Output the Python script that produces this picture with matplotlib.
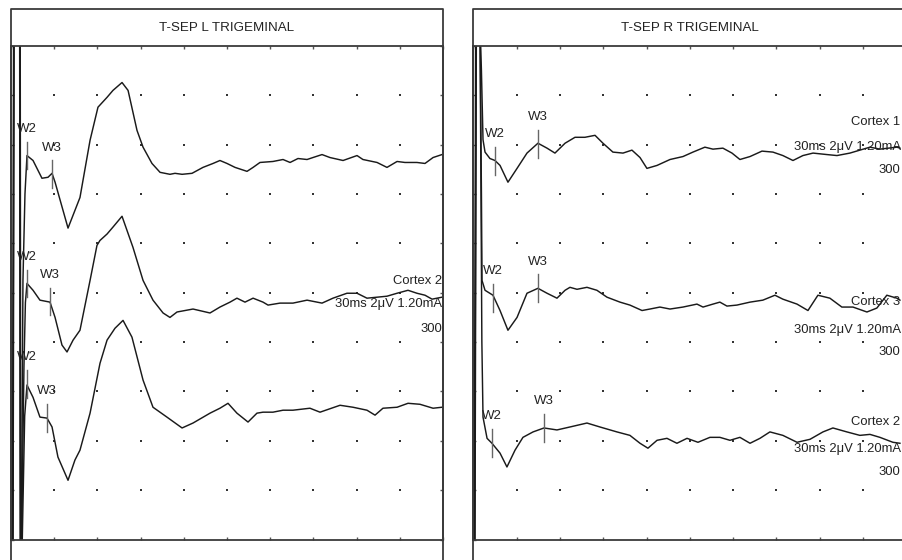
import matplotlib
matplotlib.use('Agg')
import matplotlib.pyplot as plt
import numpy as np

# time in ms (3 ms / division), amplitude in grid divisions (2 uV / division)
left_titles = 'T-SEP L TRIGEMINAL'
right_titles = 'T-SEP R TRIGEMINAL'

left_t1_ms = [0.10, 0.18, 0.62, 0.66, 0.72, 0.83, 0.97, 1.11, 1.53, 2.15, 2.57, 2.85, 3.06, 3.96, 4.79, 5.49, 6.04, 6.67, 7.08, 7.71,
              8.13, 8.75, 9.17, 9.79, 10.35, 11.04, 11.39, 11.88, 12.57, 13.33, 14.03, 14.51, 15.00, 15.56, 16.39, 16.81, 17.29,
              18.19, 18.89, 19.38, 19.93, 20.56, 20.97, 21.60, 22.15, 23.06, 24.03, 24.44, 25.42, 26.11, 26.81, 27.36, 28.19,
              28.75, 29.31, 29.93]
left_t1_div = [-0.5, 10.5, 10.5, -0.5, -0.5, 5.25, 7.0, 7.78, 7.68, 7.32, 7.34, 7.42, 7.24, 6.31, 6.93, 8.09, 8.76, 8.96, 9.10, 9.26,
               9.10, 8.29, 7.95, 7.62, 7.44, 7.40, 7.42, 7.40, 7.42, 7.54, 7.62, 7.68, 7.62, 7.54, 7.46, 7.54, 7.64,
               7.66, 7.70, 7.64, 7.72, 7.70, 7.74, 7.80, 7.74, 7.68, 7.78, 7.70, 7.64, 7.54, 7.66, 7.64, 7.64,
               7.62, 7.74, 7.80]

left_t2_ms = [0.12, 0.20, 0.60, 0.64, 0.72, 0.90, 1.00, 1.11, 1.53, 2.01, 2.71, 3.06, 3.54, 3.89, 4.31, 4.79, 5.49, 5.97, 6.18, 6.67,
              7.08, 7.71, 8.47, 9.17, 9.86, 10.56, 11.04, 11.53, 12.64, 13.82, 14.51, 15.21, 15.69, 16.25, 16.81, 17.50, 17.85,
              18.68, 19.58, 20.56, 21.60, 22.36, 23.33, 24.03, 24.72, 25.42, 26.11, 26.81, 27.57, 28.19, 28.75, 29.24, 29.93]
left_t2_div = [-0.5, 10.5, 10.5, -0.5, -0.5, 3.5, 4.8, 5.19, 5.05, 4.85, 4.81, 4.50, 3.94, 3.80, 4.04, 4.24, 5.25, 5.96, 6.06, 6.19,
               6.33, 6.55, 5.92, 5.25, 4.85, 4.59, 4.50, 4.61, 4.67, 4.59, 4.71, 4.81, 4.89, 4.81, 4.89, 4.81, 4.75,
               4.79, 4.79, 4.85, 4.79, 4.89, 4.99, 4.99, 4.89, 4.91, 4.93, 4.99, 5.05, 4.99, 4.95, 4.87, 4.91]

left_t3_ms = [0.14, 0.22, 0.64, 0.68, 0.75, 0.95, 1.11, 1.53, 2.01, 2.50, 2.85, 3.26, 3.96, 4.44, 4.79, 5.49, 6.18, 6.67, 7.22, 7.78,
              8.40, 9.17, 9.86, 10.83, 11.88, 12.64, 13.82, 14.51, 15.07, 15.69, 16.46, 17.08, 17.50, 18.19, 18.89, 19.58,
              20.76, 21.46, 22.85, 23.75, 24.72, 25.28, 25.83, 26.81, 27.57, 28.40, 29.31, 29.93]
left_t3_div = [-0.5, 10.5, 10.5, -0.5, -0.5, 2.5, 3.13, 2.88, 2.48, 2.46, 2.28, 1.67, 1.20, 1.61, 1.81, 2.56, 3.57, 4.04, 4.28, 4.44,
               4.10, 3.23, 2.68, 2.48, 2.26, 2.36, 2.56, 2.66, 2.76, 2.56, 2.38, 2.56, 2.58, 2.58, 2.62, 2.62,
               2.66, 2.58, 2.72, 2.68, 2.62, 2.52, 2.66, 2.68, 2.76, 2.74, 2.66, 2.68]

right_t1_ms = [0.05, 0.15, 0.45, 0.55, 0.66, 0.80, 1.14, 1.49, 1.84, 2.39, 3.02, 3.71, 4.47, 5.10, 5.65, 6.35, 7.04, 7.73, 8.43, 8.98,
               9.67, 10.37, 10.99, 11.55, 12.03, 12.73, 13.63, 14.53, 15.22, 16.05, 16.61, 17.30, 17.93, 18.48, 19.18, 20.01,
               20.77, 21.46, 22.16, 22.85, 23.55, 24.52, 25.21, 26.11, 26.80, 27.50, 28.19, 29.37, 29.58]
right_t1_div = [-0.5, 10.5, 10.5, 9.5, 8.1, 7.85, 7.72, 7.68, 7.58, 7.24, 7.52, 7.83, 8.03, 7.93, 7.83, 8.03, 8.15, 8.15, 8.19, 8.03,
                7.85, 7.83, 7.89, 7.74, 7.52, 7.58, 7.70, 7.76, 7.85, 7.95, 7.91, 7.93, 7.83, 7.70, 7.76, 7.87,
                7.85, 7.78, 7.68, 7.78, 7.83, 7.80, 7.78, 7.83, 7.89, 7.95, 7.91, 7.95, 7.93]

right_t2_ms = [0.08, 0.18, 0.45, 0.55, 0.59, 0.80, 1.35, 1.84, 2.39, 3.02, 3.71, 4.47, 5.10, 5.79, 6.35, 6.69, 7.18, 7.87, 8.56, 9.26,
               10.16, 10.85, 11.69, 12.24, 12.93, 13.63, 14.53, 15.50, 15.92, 16.61, 17.09, 17.58, 18.27, 19.18, 20.07, 20.91,
               21.46, 22.44, 23.20, 23.89, 24.72, 25.55, 26.32, 27.29, 27.98, 28.67, 29.37, 29.58]
right_t2_div = [-0.5, 10.5, 10.5, 7.0, 5.25, 5.05, 4.95, 4.64, 4.24, 4.50, 4.99, 5.09, 4.99, 4.89, 5.05, 5.11, 5.07, 5.11, 5.05, 4.91,
                4.81, 4.75, 4.64, 4.67, 4.71, 4.67, 4.71, 4.77, 4.71, 4.77, 4.81, 4.73, 4.75, 4.81, 4.85, 4.95,
                4.87, 4.77, 4.64, 4.95, 4.89, 4.71, 4.71, 4.61, 4.69, 4.95, 4.89, 4.85]

right_t3_ms = [0.10, 0.20, 0.45, 0.58, 0.66, 0.94, 1.28, 1.84, 2.32, 2.88, 3.43, 4.13, 4.89, 5.79, 6.69, 7.87, 8.77, 9.95, 10.85, 11.55,
               12.10, 12.73, 13.42, 14.11, 14.81, 15.57, 16.40, 17.09, 17.79, 18.48, 19.18, 19.87, 20.56, 21.46, 22.44, 23.34,
               24.24, 24.93, 25.90, 26.80, 27.50, 28.19, 29.09, 29.58]
right_t3_div = [-0.5, 10.5, 10.5, 4.0, 2.48, 2.05, 1.95, 1.75, 1.47, 1.81, 2.07, 2.18, 2.26, 2.22, 2.28, 2.36, 2.28, 2.18, 2.11, 1.95,
                1.85, 2.01, 2.05, 1.95, 2.05, 1.97, 2.07, 2.07, 2.01, 2.07, 1.95, 2.05, 2.18, 2.11, 1.97, 2.03,
                2.18, 2.26, 2.18, 2.11, 2.13, 2.07, 1.97, 1.95]

# peak markers: (latency ms, amplitude div)
left_w2 = [(1.11, 7.78), (1.11, 5.19), (1.11, 3.15)]
left_w3 = [(2.85, 7.40), (2.71, 4.82), (2.50, 2.46)]
right_w2 = [(1.49, 7.67), (1.35, 4.90), (1.28, 1.96)]
right_w3 = [(4.47, 8.02), (4.47, 5.09), (4.89, 2.26)]

left_channels = ['', 'Cortex 2', '']
right_channels = ['Cortex 1', 'Cortex 3', 'Cortex 2']
setting_text = '30ms 2\u03bcV 1.20mA'
sweeps_text = '300'
# label rows for each trace (div)
left_text_y = [None, (5.23, 4.77, 4.26), None]
right_text_y = [(8.45, 7.95, 7.48), (4.81, 4.24, 3.80), (2.38, 1.83, 1.37)]

W, H = 902, 560
FAM = ['Liberation Sans', 'DejaVu Sans']
BOX = '#3a3a3a'


def main():
  fig = plt.figure(figsize=(W / 100, H / 100), dpi=100)
  fig.patch.set_facecolor('white')

  ax1 = fig.add_axes([11 / W, 20.5 / H, 432 / W, 493.5 / H])
  drawPanel(ax1, left_titles,
            [(left_t1_ms, left_t1_div), (left_t2_ms, left_t2_div), (left_t3_ms, left_t3_div)],
            left_w2, left_w3, left_channels, left_text_y, 29.93)

  ax2 = fig.add_axes([473.5 / W, 20.5 / H, 432.5 / W, 493.5 / H])
  drawPanel(ax2, right_titles,
            [(right_t1_ms, right_t1_div), (right_t2_ms, right_t2_div), (right_t3_ms, right_t3_div)],
            right_w2, right_w3, right_channels, right_text_y, 29.62)

  fig.savefig('out.png', dpi=100)


def drawPanel(ax, title, traces, w2, w3, channels, text_y, text_x):
  ax.set_xlim(0, 30)
  ax.set_ylim(0, 10)
  ax.set_xticks(np.arange(0, 31, 3))
  ax.set_yticks(np.arange(0, 11, 1))
  ax.tick_params(which='both', direction='in', length=2.5, width=1, color='#555555',
                 top=True, right=True, labelbottom=False, labelleft=False)
  for s in ax.spines.values():
    s.set_color(BOX)
    s.set_linewidth(1.3)

  # grid dots
  gx, gy = np.meshgrid(np.arange(3, 30, 3), np.arange(1, 10, 1))
  ax.plot(gx.ravel(), gy.ravel(), linestyle='none', marker='s', markersize=1.7,
          color='#333333', markeredgewidth=0)

  # title box around the panel
  top = 1 + 37 / 493.5
  ax.plot([0, 0, 1, 1], [-0.1, top, top, -0.1], transform=ax.transAxes,
          clip_on=False, color=BOX, linewidth=1.3)
  ax.text(0.5, 1 + 18 / 493.5, title, transform=ax.transAxes, ha='center', va='center',
          fontsize=9.6, family=FAM, color='#222222')

  for ms, div in traces:
    ax.plot(ms, div, color='#1a1a1a', linewidth=1.05)

  half = 0.28
  for name, peaks in (('W2', w2), ('W3', w3)):
    for t, v in peaks:
      ax.plot([t, t], [v - half, v + half], color='#666666', linewidth=1.0)
      ax.text(t, v + half + 0.2, name, ha='center', va='baseline', fontsize=9.5,
              family=FAM, color='#222222')

  for ch, ys in zip(channels, text_y):
    if ys is None:
      continue
    for txt, y in zip((ch, setting_text, sweeps_text), ys):
      ax.text(text_x, y, txt, ha='right', va='center', fontsize=9.4, family=FAM,
              color='#222222')


if __name__ == '__main__':
  main()
